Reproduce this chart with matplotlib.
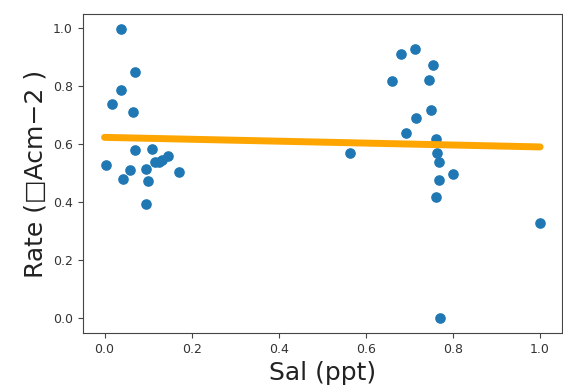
import numpy as np
import matplotlib.pyplot as plt

## Data (normalised salinity vs rate)
sal = [0.004, 0.016, 0.037, 0.037, 0.043, 0.059, 0.065, 0.069, 0.069,
       0.095, 0.095, 0.099, 0.108, 0.117, 0.124, 0.132, 0.145, 0.170,
       0.563,
       0.681, 0.712, 0.754, 0.661, 0.746, 0.750, 0.716, 0.691, 0.761,
       0.764, 0.767, 0.799, 0.769, 0.761, 0.771,
       1.0]
rate = [0.530, 0.740, 0.999, 0.786, 0.479, 0.510, 0.711, 0.849, 0.579,
        0.395, 0.514, 0.473, 0.585, 0.538, 0.538, 0.547, 0.559, 0.504,
        0.569,
        0.913, 0.928, 0.875, 0.817, 0.821, 0.717, 0.691, 0.640, 0.620,
        0.570, 0.539, 0.499, 0.478, 0.418, 0.0,
        0.327]

## Fitted regression line (end points)
fit_x = [0.0, 1.0]
fit_y = [0.624, 0.591]

fig = plt.figure(figsize=(5.63, 3.92), dpi=100)
ax = fig.add_axes([0.147, 0.151, 0.851, 0.813])
ax.scatter(sal, rate, s=44, color='#1f77b4', zorder=2)
ax.plot(fit_x, fit_y, color='orange', lw=5, solid_capstyle='round', zorder=3)
ax.set_xlabel('Sal (ppt)', fontsize=18, color='#222222')
ax.set_ylabel('Rate (\u25a1Acm\u22122 )', fontsize=18, color='#222222')
ax.tick_params(labelsize=9, labelcolor='#333333', color='#444444')
for s in ax.spines.values(): s.set_color('#444444')
plt.savefig('out.png', dpi=100)
